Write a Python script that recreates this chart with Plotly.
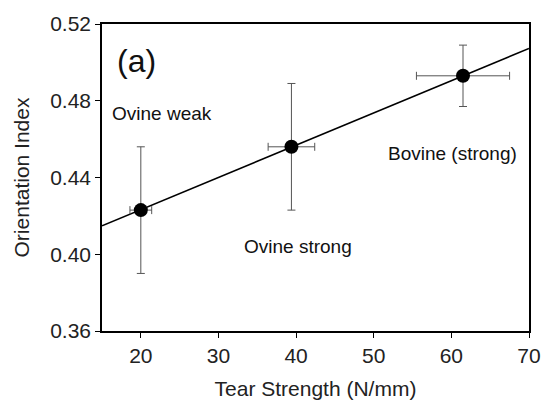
import plotly.graph_objects as go

# measured points
tear_strength = [20.0, 39.4, 61.5]
tear_err = [1.4, 3.0, 6.0]
orient_index = [0.423, 0.456, 0.493]
orient_err = [0.033, 0.033, 0.016]
labels = ["Ovine weak", "Ovine strong", "Bovine (strong)"]
label_x = [22.7, 40.2, 60.1]
label_y = [0.4736, 0.4043, 0.4523]

# regression line
fit_x = [15, 70]
fit_y = [0.4148, 0.5073]

fig = go.Figure()
fig.add_trace(go.Scatter(
    x=fit_x, y=fit_y, mode="lines",
    line=dict(color="black", width=1.6), showlegend=False))
fig.add_trace(go.Scatter(
    x=tear_strength, y=orient_index, mode="markers",
    marker=dict(color="black", size=14),
    error_x=dict(type="data", array=tear_err, color="#555555", thickness=1, width=4),
    error_y=dict(type="data", array=orient_err, color="#555555", thickness=1, width=4),
    showlegend=False))

for t, xx, yy in zip(labels, label_x, label_y):
    fig.add_annotation(x=xx, y=yy, text=t, showarrow=False,
                       font=dict(size=19, color="#111"))
fig.add_annotation(x=0.03, y=0.879, xref="paper", yref="paper", text="(a)",
                   showarrow=False, xanchor="left", yanchor="middle",
                   font=dict(size=32, color="#111"))

axis_style = dict(showline=True, linecolor="black", linewidth=1.5, mirror=True,
                  ticks="outside", ticklen=5, tickcolor="black", showgrid=False,
                  zeroline=False, automargin=False,
                  tickfont=dict(size=21, color="#222"))
fig.update_xaxes(range=[15, 70], tickvals=[20, 30, 40, 50, 60, 70],
                 title=dict(text="Tear Strength (N/mm)", font=dict(size=21, color="#222")),
                 **axis_style)
fig.update_yaxes(range=[0.36, 0.52], tickvals=[0.36, 0.40, 0.44, 0.48, 0.52],
                 tickformat=".2f",
                 title=dict(text="Orientation Index", font=dict(size=21, color="#222")),
                 **axis_style)

fig.update_layout(
    width=543, height=404,
    margin=dict(l=102, r=14, t=24, b=73),
    plot_bgcolor="white", paper_bgcolor="white",
    font=dict(family="Liberation Sans, Arial, sans-serif"),
)
# drop the default page margin so the figure fills the window
fig.write_html("out.html", config={"displayModeBar": False},
               post_script="document.body.style.margin='0';document.body.style.overflow='hidden';")
